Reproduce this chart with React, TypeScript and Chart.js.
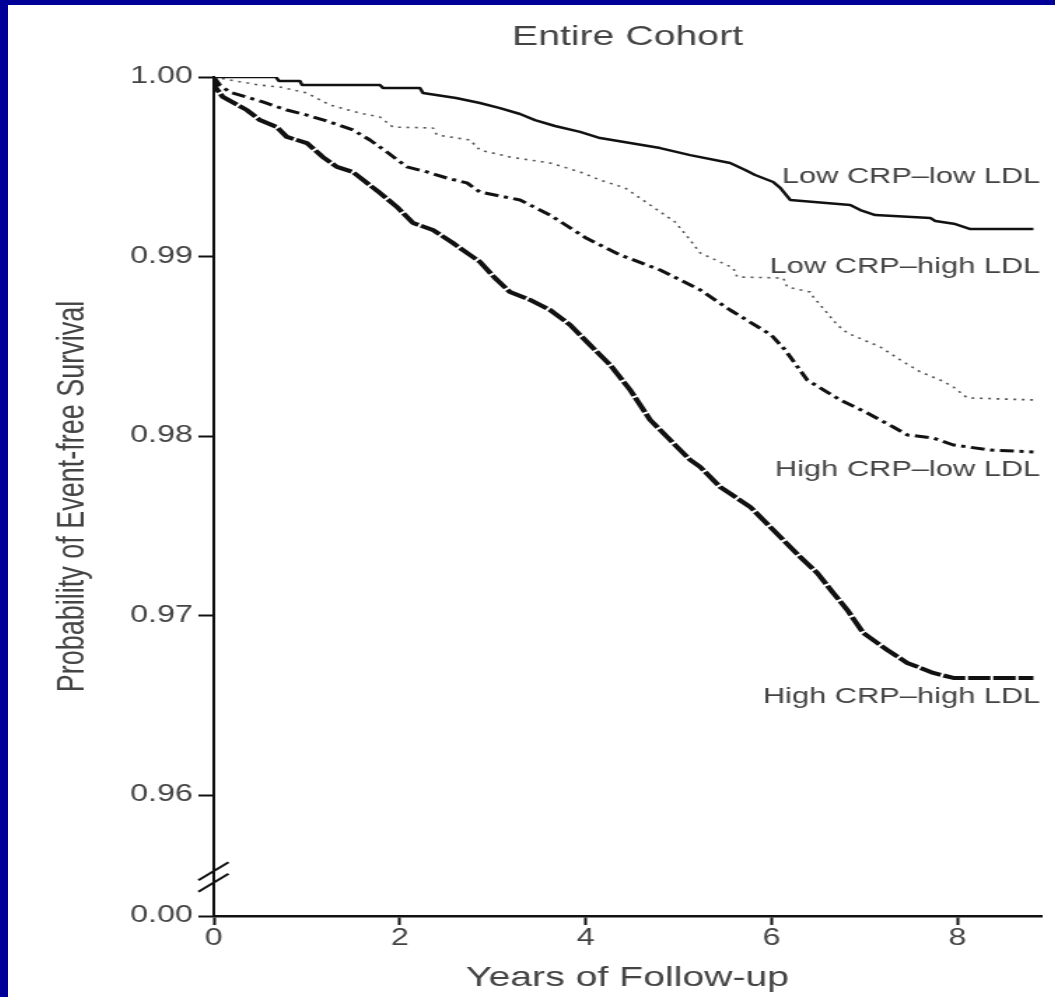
import React, { useEffect, useRef } from "react";
import { Chart, registerables } from "chart.js";

Chart.register(...registerables);

// ---------- data ----------
const TITLE = "Entire Cohort";
const X_TITLE = "Years of Follow-up";
const Y_TITLE = "Probability of Event-free Survival";

const X_TICKS = [0, 2, 4, 6, 8];
const X_MAX = 8.9;
const Y_FLOOR = 0.95326; // where the broken axis shows "0.00"
const Y_TICKS = [Y_FLOOR, 0.96, 0.97, 0.98, 0.99, 1.0];
const Y_TICK_LABELS = ["0.00", "0.96", "0.97", "0.98", "0.99", "1.00"];
const Y_BREAK = 0.95543;

// Low CRP - low LDL
const T_LL = [0, 0.667, 0.7, 0.926, 0.95, 1.787, 1.82, 2.217, 2.25, 2.605, 2.863, 3.078, 3.294, 3.455, 3.67, 3.94, 4.155, 4.478, 4.801, 5.124, 5.554, 5.716, 5.823, 6.017, 6.093, 6.2, 6.846, 6.954, 7.115, 7.707, 7.761, 7.976, 8.138, 8.816];
const S_LL = [1.0, 1.0, 0.99978, 0.99978, 0.99955, 0.99955, 0.99939, 0.99939, 0.99911, 0.99883, 0.99855, 0.99827, 0.99794, 0.9976, 0.99727, 0.99694, 0.9966, 0.99632, 0.99604, 0.99565, 0.99521, 0.99482, 0.99454, 0.99415, 0.99382, 0.99315, 0.99287, 0.99259, 0.99231, 0.99214, 0.99198, 0.99181, 0.99153, 0.99153];

// Low CRP - high LDL
const T_LH = [0, 0.172, 0.495, 0.71, 1.001, 1.249, 1.572, 1.787, 1.927, 2.357, 2.4, 2.756, 2.863, 3.186, 3.617, 3.94, 4.155, 4.424, 4.693, 4.962, 5.124, 5.231, 5.587, 5.63, 6.125, 6.168, 6.416, 6.448, 6.598, 6.706, 6.814, 7.169, 7.384, 7.6, 7.815, 7.955, 8.106, 8.816];
const S_LH = [1.0, 0.99983, 0.99955, 0.99944, 0.99911, 0.99844, 0.99799, 0.99777, 0.99721, 0.99716, 0.99677, 0.99649, 0.99593, 0.99554, 0.99521, 0.99471, 0.99426, 0.99382, 0.99287, 0.99192, 0.99092, 0.9902, 0.98936, 0.98886, 0.9888, 0.9883, 0.98802, 0.98775, 0.98685, 0.98619, 0.98574, 0.98496, 0.98424, 0.98357, 0.98312, 0.98273, 0.98212, 0.98201];

// High CRP - low LDL
const T_HL = [0, 0.065, 0.172, 0.527, 0.786, 1.001, 1.249, 1.496, 1.679, 1.862, 2.077, 2.293, 2.508, 2.723, 2.863, 3.294, 3.617, 4.004, 4.37, 4.801, 5.231, 5.554, 5.996, 6.146, 6.383, 6.738, 7.029, 7.309, 7.459, 7.739, 7.955, 8.353, 8.816];
const S_HL = [1.0, 0.99955, 0.99916, 0.99861, 0.99816, 0.99788, 0.99749, 0.99705, 0.99649, 0.99582, 0.99499, 0.99471, 0.99437, 0.9941, 0.99359, 0.99315, 0.99231, 0.99103, 0.99009, 0.98925, 0.98814, 0.98702, 0.98563, 0.98479, 0.98312, 0.98201, 0.98128, 0.9805, 0.98006, 0.97989, 0.9795, 0.97922, 0.97911];

// High CRP - high LDL
const T_HH = [0, 0.022, 0.097, 0.355, 0.495, 0.678, 0.786, 1.001, 1.173, 1.324, 1.496, 1.647, 1.787, 1.97, 2.142, 2.357, 2.573, 2.723, 2.863, 3.025, 3.186, 3.402, 3.617, 3.832, 4.047, 4.263, 4.478, 4.693, 4.908, 5.124, 5.231, 5.447, 5.77, 6.017, 6.308, 6.491, 6.663, 6.814, 6.986, 7.244, 7.459, 7.739, 7.955, 8.816];
const S_HH = [1.0, 0.99939, 0.99889, 0.99816, 0.9976, 0.99721, 0.99666, 0.99632, 0.99554, 0.99499, 0.99471, 0.9941, 0.99354, 0.99276, 0.99187, 0.99148, 0.99075, 0.9902, 0.9897, 0.9888, 0.98802, 0.98758, 0.98702, 0.98619, 0.98507, 0.98396, 0.98257, 0.9809, 0.97978, 0.97867, 0.97828, 0.97716, 0.97605, 0.97477, 0.97326, 0.97237, 0.97126, 0.97031, 0.96903, 0.96808, 0.96736, 0.9668, 0.96652, 0.96652];

const SERIES_NAMES = ["Low CRP\u2013low LDL", "Low CRP\u2013high LDL", "High CRP\u2013low LDL", "High CRP\u2013high LDL"];
const LABEL_X = 8.89;
const LABEL_Y = [0.99443, 0.98942, 0.97811, 0.96546];

// ---------- style ----------
const FONT = '"Liberation Sans", Arial, Helvetica, sans-serif';
const TEXT = "#444444";
const INK = "#111111";
const STRETCH = 1.4;
const W0 = 748;
const H0 = 992;

const overlayPlugin = {
  id: "overlay",
  afterDraw(chart: any) {
    const { ctx, chartArea, scales } = chart;
    const xs = scales.x;
    const ys = scales.y;
    ctx.save();
    ctx.fillStyle = TEXT;
    ctx.font = `28px ${FONT}`;
    ctx.textAlign = "center";
    ctx.textBaseline = "alphabetic";
    ctx.fillText(TITLE, (chartArea.left + chartArea.right) / 2, 40);

    ctx.font = `22px ${FONT}`;
    ctx.textAlign = "right";
    ctx.textBaseline = "middle";
    SERIES_NAMES.forEach((n, i) => {
      ctx.fillText(n, xs.getPixelForValue(LABEL_X), ys.getPixelForValue(LABEL_Y[i]));
    });

    const c = ys.getPixelForValue(Y_BREAK);
    const l = chartArea.left;
    ctx.strokeStyle = INK;
    ctx.lineWidth = 2;
    [-5.75, 5.75].forEach((d) => {
      ctx.beginPath();
      ctx.moveTo(l - 11, c + d + 9);
      ctx.lineTo(l + 10.5, c + d - 9);
      ctx.stroke();
    });
    ctx.restore();
  },
};

function series(t: number[], s: number[]) {
  return t.map((x, i) => ({ x, y: s[i] }));
}

export default function App() {
  const ref = useRef<HTMLCanvasElement | null>(null);

  useEffect(() => {
    if (!ref.current) return;
    const common = { pointRadius: 0, tension: 0, stepped: false, fill: false, borderJoinStyle: "round" as const };
    const chart = new Chart(ref.current, {
      type: "line",
      data: {
        datasets: [
          { ...common, label: SERIES_NAMES[0], data: series(T_LL, S_LL), borderColor: INK, borderWidth: 2.5 },
          { ...common, label: SERIES_NAMES[1], data: series(T_LH, S_LH), borderColor: "#555", borderWidth: 1.6, borderDash: [2, 4] },
          { ...common, label: SERIES_NAMES[2], data: series(T_HL, S_HL), borderColor: INK, borderWidth: 3, borderDash: [10, 4, 3, 4] },
          { ...common, label: SERIES_NAMES[3], data: series(T_HH, S_HH), borderColor: INK, borderWidth: 4, borderDash: [16, 2] },
        ],
      },
      options: {
        animation: false,
        responsive: false,
        layout: { padding: { top: 72, left: 0, right: 10, bottom: 0 } },
        plugins: {
          legend: { display: false },
          tooltip: { enabled: false },
          title: { display: false },
        },
        scales: {
          x: {
            type: "linear",
            min: 0,
            max: X_MAX,
            afterBuildTicks: (s: any) => {
              s.ticks = X_TICKS.map((v) => ({ value: v }));
            },
            afterFit: (s: any) => {
              s.height = 81;
            },
            grid: { drawOnChartArea: false, drawTicks: true, tickLength: 9, tickWidth: 2, tickColor: INK },
            border: { display: true, color: INK, width: 2.5 },
            ticks: { color: TEXT, font: { family: FONT, size: 23 }, padding: 0, maxRotation: 0, autoSkip: false },
            title: { display: true, text: X_TITLE, color: TEXT, font: { family: FONT, size: 28 }, padding: { top: 0, bottom: 2 } },
          },
          y: {
            type: "linear",
            min: Y_FLOOR,
            max: 1.0,
            afterBuildTicks: (s: any) => {
              s.ticks = Y_TICKS.map((v) => ({ value: v }));
            },
            afterFit: (s: any) => {
              s.width = 147;
            },
            grid: { drawOnChartArea: false, drawTicks: true, tickLength: 11, tickWidth: 2, tickColor: INK },
            border: { display: true, color: INK, width: 2 },
            ticks: {
              color: TEXT,
              font: { family: FONT, size: 23 },
              padding: 4,
              autoSkip: false,
              callback: (_v: any, i: number) => Y_TICK_LABELS[i],
            },
            title: { display: true, text: Y_TITLE, color: TEXT, font: { family: FONT, size: 27 }, padding: { top: 30, bottom: 0 } },
          },
        },
      },
      plugins: [overlayPlugin],
    });
    return () => chart.destroy();
  }, []);

  return (
    <div style={{ position: "fixed", left: 0, top: 0, width: 1055, height: 997, background: "#000099", overflow: "hidden" }}>
      <div style={{ position: "absolute", left: 8, top: 5, width: 1047, height: H0, background: "#ffffff", overflow: "hidden" }}>
        <div
          style={{
            position: "absolute",
            left: 0,
            top: 0,
            width: W0,
            height: H0,
            transform: `scaleX(${STRETCH})`,
            transformOrigin: "0 0",
          }}
        >
          <canvas ref={ref} width={W0} height={H0} style={{ display: "block" }} />
        </div>
      </div>
    </div>
  );
}
